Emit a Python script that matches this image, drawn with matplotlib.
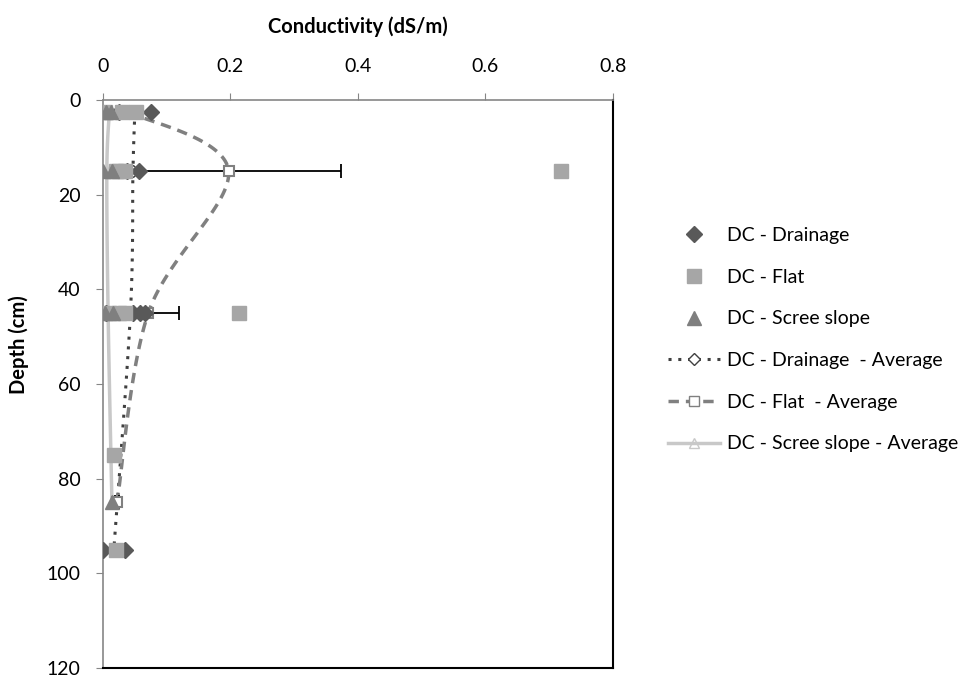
# Conductivity vs depth profile (DC sites)

import matplotlib.pyplot as plt
import numpy as np

plt.rcParams['font.family'] = ['Lato', 'DejaVu Sans']

# individual samples
drain_depth = [2.5, 2.5, 15, 15, 45, 45, 45, 45, 95, 95]
drain_ec = [0.025, 0.076, 0.037, 0.057, 0.005, 0.047, 0.058, 0.066, 0.0, 0.034]

flat_depth = [2.5, 2.5, 2.5, 15, 15, 15, 15, 45, 45, 45, 45, 75, 95]
flat_ec = [0.003, 0.03, 0.052, 0.02, 0.025, 0.035, 0.718, 0.01, 0.025, 0.035, 0.213, 0.018, 0.02]

scree_depth = [2.5, 2.5, 15, 15, 45, 45, 85]
scree_ec = [0.005, 0.013, 0.0, 0.014, 0.003, 0.016, 0.014]

# averages
drain_avg_depth = [2.5, 15, 45, 95]
drain_avg = [0.05, 0.047, 0.043, 0.017]

flat_avg_depth = [2.5, 15, 45, 85]
flat_avg = [0.04, 0.197, 0.071, 0.022]
flat_avg_err = [0.012, 0.177, 0.048, 0.003]

scree_avg_depth = [2.5, 15, 45, 85]
scree_avg = [0.01, 0.006, 0.008, 0.014]

XMAX, YMAX = 0.8, 120
AX_W, AX_H = 510, 568  # axes size in px, used so the smoothing works in screen space


def smooth(xs, ys, n=40):
    """Excel-like smoothed line (Catmull-Rom) through the points"""
    p = np.column_stack([np.array(xs) / XMAX * AX_W, np.array(ys) / YMAX * AX_H])
    p = np.vstack([p[0], p, p[-1]])
    out = []
    t = np.linspace(0, 1, n)[:, None]
    for i in range(1, len(p) - 2):
        p0, p1, p2, p3 = p[i - 1], p[i], p[i + 1], p[i + 2]
        c1 = p1 + (p2 - p0) / 6
        c2 = p2 - (p3 - p1) / 6
        seg = ((1 - t) ** 3) * p1 + 3 * ((1 - t) ** 2) * t * c1 + 3 * (1 - t) * t ** 2 * c2 + t ** 3 * p2
        out.append(seg)
    out = np.vstack(out)
    return out[:, 0] / AX_W * XMAX, out[:, 1] / AX_H * YMAX


fig = plt.figure(figsize=(9.7, 6.79), dpi=100)
ax = fig.add_axes([103 / 970, 1 - 668 / 679, AX_W / 970, AX_H / 679])

# averages first (they sit behind the sample markers)
sx, sy = smooth(scree_avg, scree_avg_depth)
ax.plot(sx, sy, ls='-', lw=2.5, color='#c8c8c8', zorder=2)
ax.plot(scree_avg, scree_avg_depth, ls='none', marker='^', ms=7, mfc='none', mec='#c8c8c8', zorder=2)

sx, sy = smooth(drain_avg, drain_avg_depth)
ax.plot(sx, sy, ls=(0, (1, 2.2)), lw=2.2, color='#404040', zorder=2)
ax.plot(drain_avg, drain_avg_depth, ls='none', marker='D', ms=6, mfc='white', mec='#404040', zorder=2)

sx, sy = smooth(flat_avg, flat_avg_depth)
ax.plot(sx, sy, ls=(0, (3, 2)), lw=2.5, color='#808080', zorder=2)
ax.errorbar(flat_avg, flat_avg_depth, xerr=flat_avg_err, ls='none', ecolor='black',
            elinewidth=1.3, capsize=5, capthick=1.3, zorder=2)
ax.plot(flat_avg, flat_avg_depth, ls='none', marker='s', ms=7, mfc='white', mec='#808080', mew=1.5, zorder=2)

ax.plot(drain_ec, drain_depth, ls='none', marker='D', ms=8, color='#595959', mec='#595959',
        label='DC - Drainage', zorder=3)
ax.plot(flat_ec, flat_depth, ls='none', marker='s', ms=10, color='#a6a6a6', mec='#a6a6a6',
        label='DC - Flat', zorder=4)
ax.plot(scree_ec, scree_depth, ls='none', marker='^', ms=10, color='#7f7f7f', mec='#7f7f7f',
        label='DC - Scree slope', zorder=5)

# legend handles for the average series
ax.plot([], [], ls=(0, (1, 2.2)), lw=2.2, color='#404040', marker='D', ms=6, mfc='white',
        mec='#404040', label='DC - Drainage  - Average')
ax.plot([], [], ls=(0, (3, 2)), lw=2.5, color='#808080', marker='s', ms=7, mfc='white',
        mec='#808080', label='DC - Flat  - Average')
ax.plot([], [], ls='-', lw=2.5, color='#c8c8c8', marker='^', ms=7, mfc='none',
        mec='#c8c8c8', label='DC - Scree slope - Average')

ax.set_xlim(0, XMAX)
ax.set_ylim(YMAX, 0)
ax.set_xticks([0, 0.2, 0.4, 0.6, 0.8])
ax.set_xticklabels(['0', '0.2', '0.4', '0.6', '0.8'])
ax.set_yticks([0, 20, 40, 60, 80, 100, 120])
ax.xaxis.tick_top()
ax.xaxis.set_label_position('top')
ax.tick_params(axis='x', direction='out', length=5, color='#868686', labelsize=14, pad=13)
ax.tick_params(axis='y', direction='out', length=5, color='#868686', labelsize=14, pad=11)

ax.set_xlabel('Conductivity (dS/m)', fontsize=14.5, fontweight='bold', labelpad=18)
ax.set_ylabel('Depth (cm)', fontsize=14.5, fontweight='bold', labelpad=12)
ax.yaxis.set_label_coords(-0.145, 0.57)

for s in ['left', 'top']:
    ax.spines[s].set_color('#868686')
    ax.spines[s].set_linewidth(1.2)
for s in ['right', 'bottom']:
    ax.spines[s].set_color('black')
    ax.spines[s].set_linewidth(1.5)

ax.legend(loc='upper left', bbox_to_anchor=(668 / 970, 1 - 227 / 679), bbox_transform=fig.transFigure,
          frameon=False, fontsize=14, handlelength=2.7, handletextpad=0.35, labelspacing=1.27,
          borderaxespad=0, borderpad=0)

plt.savefig('out.png', dpi=100)
plt.close()
